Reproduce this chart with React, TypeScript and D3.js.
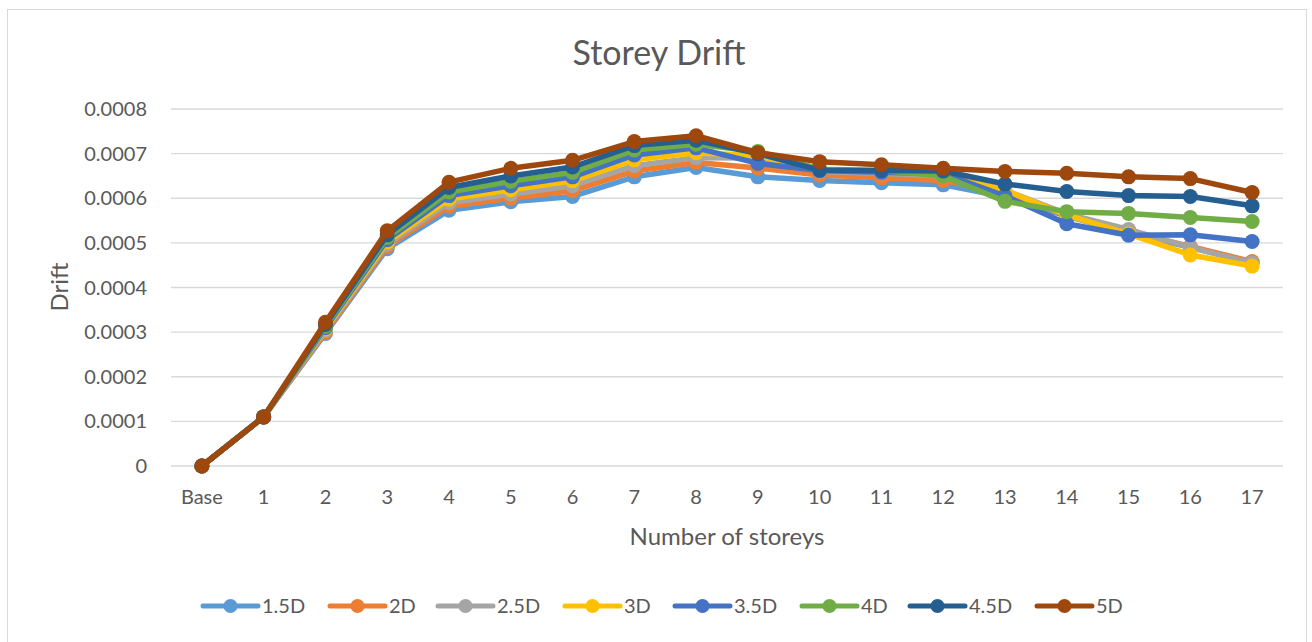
import React from "react";
import * as d3 from "d3";

const categories = ["Base", "1", "2", "3", "4", "5", "6", "7", "8", "9", "10", "11", "12", "13", "14", "15", "16", "17"];
const seriesNames = ["1.5D", "2D", "2.5D", "3D", "3.5D", "4D", "4.5D", "5D"];
const seriesColors = ["#5B9BD5", "#ED7D31", "#A5A5A5", "#FFC000", "#4472C4", "#70AD47", "#255E91", "#9E480E"];

const d1_5 = [0, 0.00011, 0.000297, 0.000487, 0.000573, 0.000592, 0.000604, 0.000648, 0.000669, 0.000648, 0.00064, 0.000635, 0.00063, 0.000603, 0.00056, 0.000522, 0.00049, 0.000456];
const d2 = [0, 0.00011, 0.0003, 0.000492, 0.000582, 0.0006, 0.000617, 0.000661, 0.00068, 0.000668, 0.000652, 0.000646, 0.00064, 0.000612, 0.000562, 0.000525, 0.000492, 0.000458];
const d2_5 = [0, 0.00011, 0.000304, 0.000497, 0.00059, 0.000609, 0.000628, 0.000673, 0.000691, 0.00069, 0.00066, 0.000656, 0.00065, 0.000618, 0.000565, 0.00053, 0.00049, 0.000455];
const d3_0 = [0, 0.00011, 0.000307, 0.000502, 0.000598, 0.000619, 0.000639, 0.000686, 0.000702, 0.000695, 0.000664, 0.00066, 0.000655, 0.000618, 0.000562, 0.00052, 0.000473, 0.000448];
const d3_5 = [0, 0.00011, 0.00031, 0.000507, 0.000606, 0.000628, 0.000648, 0.000697, 0.000713, 0.000678, 0.000662, 0.000658, 0.000655, 0.000605, 0.000543, 0.000517, 0.000518, 0.000503];
const d4 = [0, 0.00011, 0.000313, 0.000512, 0.000614, 0.000638, 0.000658, 0.000708, 0.000721, 0.000705, 0.000665, 0.000662, 0.00065, 0.000593, 0.00057, 0.000566, 0.000557, 0.000548];
const d4_5 = [0, 0.00011, 0.000317, 0.000518, 0.000624, 0.00065, 0.00067, 0.000718, 0.00073, 0.0007, 0.000663, 0.000662, 0.000661, 0.000632, 0.000615, 0.000606, 0.000604, 0.000583];
const d5 = [0, 0.00011, 0.000322, 0.000527, 0.000636, 0.000667, 0.000685, 0.000727, 0.00074, 0.000702, 0.000682, 0.000675, 0.000667, 0.00066, 0.000656, 0.000648, 0.000644, 0.000613];

const seriesData = [d1_5, d2, d2_5, d3_0, d3_5, d4, d4_5, d5];
const yTicks = [0, 0.0001, 0.0002, 0.0003, 0.0004, 0.0005, 0.0006, 0.0007, 0.0008];

const W = 1312;
const H = 642;
const font = "Lato, 'Open Sans', 'DejaVu Sans', sans-serif";
const textColor = "#595959";

export default function App() {
  const x = d3.scaleBand<string>().domain(categories).range([171, 1283]);
  const y = d3.scaleLinear().domain([0, 0.0008]).range([466, 109]);
  const cx = (c: string) => (x(c) ?? 0) + x.bandwidth() / 2;

  const line = d3
    .line<number>()
    .x((_, i) => cx(categories[i]))
    .y((d) => y(d));

  const legendX = [203, 330, 438, 565, 675, 802, 910, 1037];

  return (
    <svg
      width={W}
      height={H}
      style={{ position: "absolute", left: 0, top: 0, background: "#fff" }}
      fontFamily={font}
    >
      <rect x={7.5} y={9.5} width={1299} height={640} fill="#fff" stroke="#d9d9d9" />
      <text x={659} y={65} textAnchor="middle" fontSize={34} fill={textColor}>
        Storey Drift
      </text>

      {yTicks.map((t) => (
        <g key={t}>
          <line x1={171} x2={1283} y1={y(t)} y2={y(t)} stroke="#d9d9d9" strokeWidth={1.3} />
          <text x={147} y={y(t)} dy="0.35em" textAnchor="end" fontSize={20} fill={textColor}>
            {t === 0 ? "0" : t.toFixed(4)}
          </text>
        </g>
      ))}

      {categories.map((c) => (
        <text key={c} x={cx(c)} y={504} textAnchor="middle" fontSize={20} fill={textColor}>
          {c}
        </text>
      ))}

      <text x={727} y={545} textAnchor="middle" fontSize={24} fill={textColor}>
        Number of storeys
      </text>
      <text
        transform={`translate(68, 287) rotate(-90)`}
        textAnchor="middle"
        fontSize={24}
        fill={textColor}
      >
        Drift
      </text>

      {seriesData.map((s, si) => (
        <g key={seriesNames[si]}>
          <path d={line(s) ?? ""} fill="none" stroke={seriesColors[si]} strokeWidth={5.5} strokeLinejoin="round" />
          {s.map((v, i) => (
            <circle key={i} cx={cx(categories[i])} cy={y(v)} r={7.5} fill={seriesColors[si]} />
          ))}
        </g>
      ))}

      {seriesNames.map((n, i) => (
        <g key={n} transform={`translate(${legendX[i]}, 606)`}>
          <line x1={0} x2={55} y1={0} y2={0} stroke={seriesColors[i]} strokeWidth={5} strokeLinecap="round" />
          <circle cx={27.5} cy={0} r={7} fill={seriesColors[i]} />
          <text x={59} y={0} dy="0.35em" fontSize={20} fill={textColor}>
            {n}
          </text>
        </g>
      ))}
    </svg>
  );
}
